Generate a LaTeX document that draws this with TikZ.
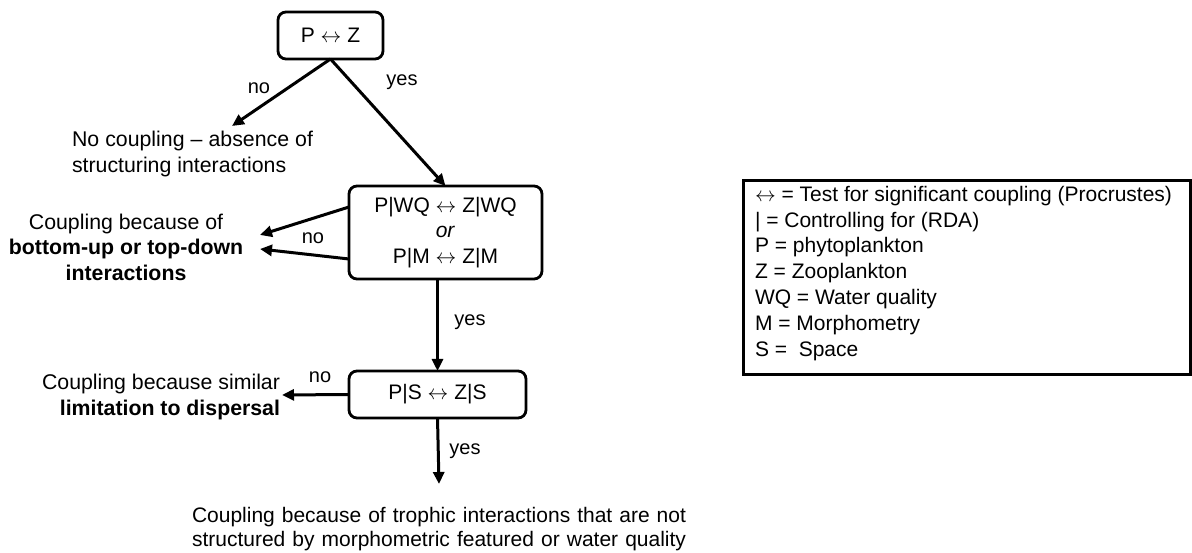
\documentclass[tikz,border=0pt]{standalone}
\usepackage{fontspec}
\setmainfont{Liberation Sans}
\usetikzlibrary{arrows.meta}
\begin{document}
\begin{tikzpicture}[x=1pt,y=-1pt,
  every node/.style={inner sep=0pt,outer sep=0pt},
  txt/.style={font=\fontsize{21.3}{25.5}\selectfont},
  decision/.style={draw,line width=2.8pt,rounded corners=8pt,font=\fontsize{21}{25.5}\selectfont,align=center},
  lbl/.style={font=\fontsize{20}{24}\selectfont},
  conn/.style={line width=3pt,-{Triangle[length=12pt,width=11pt]}},
  legendbox/.style={draw,line width=3pt}
]
\useasboundingbox (0,0) rectangle (1192,553);

% decision boxes
\node[decision,minimum width=105pt,minimum height=47pt] (top) at (330.5,35.5) {P $\leftrightarrow$ Z};
\node[decision,minimum width=193pt,minimum height=93pt] (box2) at (445.5,232.5)
  {P|WQ $\leftrightarrow$ Z|WQ\\\textit{or}\\P|M $\leftrightarrow$ Z|M};
\node[decision,minimum width=177pt,minimum height=47pt] (box3) at (437.5,394.5) {P|S $\leftrightarrow$ Z|S};

% outcome texts
\node[txt,align=left,anchor=west] (nocoup) at (72,154)
  {\makebox[241pt][s]{No coupling -- absence of}\\structuring interactions};
\node[txt,align=center] (bu) at (126,247)
  {Coupling because of\\\textbf{bottom-up or top-down}\\\textbf{interactions}};
\node[txt,align=right,anchor=east] (disp) at (280,397)
  {Coupling because similar\\\textbf{limitation to dispersal}};
\node[font=\fontsize{21}{23.5}\selectfont,align=left] (final) at (439,529)
  {\makebox[494pt][s]{Coupling because of trophic interactions that are not}\\
   \makebox[494pt][s]{structured by morphometric featured or water quality}};

% arrow end coordinates
\coordinate (t1) at (232,126);
\coordinate (t2a) at (260,235);
\coordinate (t2b) at (260,249);
\coordinate (s2a) at (box2.west |- 0,207);
\coordinate (s2b) at (box2.west |- 0,259);
\coordinate (t3) at (282,395);
\coordinate (t4) at (439,484);

% connectors
\draw[conn] (top.south) -- (t1);
\draw[conn] (top.south) -- (box2.north);
\draw[conn] (s2a) -- (t2a);
\draw[conn] (s2b) -- (t2b);
\draw[conn] (box3.north |- box2.south) -- (box3.north);
\draw[conn] (box3.west) -- (t3);
\draw[conn] (box3.south) -- (t4);

% labels
\node[lbl] (l1) at (259,88) {no};
\node[lbl] (l2) at (402,82) {yes};
\node[lbl] (l3) at (313,238) {no};
\node[lbl] (l4) at (470,322) {yes};
\node[lbl] (l5) at (320,377) {no};
\node[lbl] (l6) at (465,451) {yes};

% legend
\node[legendbox,minimum width=447pt,minimum height=194pt] (legend) at (966.5,278) {};
\node[font=\fontsize{21}{25.8}\selectfont,align=left,anchor=north west] (legtext) at (755,186)
  {$\leftrightarrow$ = Test for significant coupling (Procrustes)\\
   | = Controlling for (RDA)\\
   P = phytoplankton\\
   Z = Zooplankton\\
   WQ = Water quality\\
   M = Morphometry\\
   S = \ Space};
\end{tikzpicture}
\end{document}
